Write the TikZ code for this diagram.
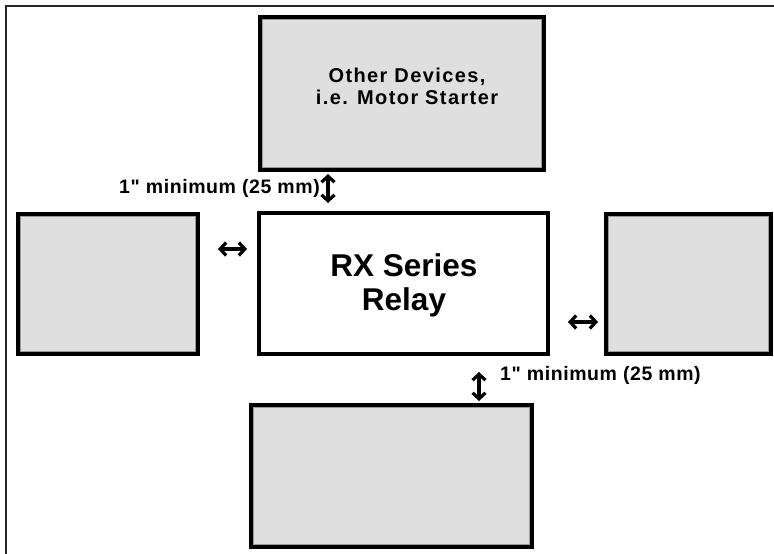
\documentclass[tikz,border=0pt]{standalone}
\usepackage{fontspec}
\setmainfont{Liberation Sans}
\newfontfamily\spacedfont[LetterSpace=3]{Liberation Sans}
\newfontfamily\widefont[LetterSpace=7]{Liberation Sans}
\usetikzlibrary{arrows.meta}
\definecolor{boxgray}{HTML}{DFDFDF}
\definecolor{edgegray}{HTML}{9A9A9A}
\begin{document}
\begin{tikzpicture}[x=1pt,y=-1pt,
  gbox/.style={draw=black, line width=4pt, fill=boxgray, inner sep=0pt, outer sep=0pt,
    path picture={\draw[edgegray,line width=1.2pt]
      ([xshift=2.6pt,yshift=-2.6pt]path picture bounding box.north west) rectangle
      ([xshift=-2.6pt,yshift=2.6pt]path picture bounding box.south east);}},
  wbox/.style={draw=black, line width=3.5pt, fill=white, inner sep=0pt, outer sep=0pt},
  lbl/.style={font=\spacedfont\bfseries\fontsize{19.5}{22}\selectfont, inner sep=0pt},
  dim/.style={line width=3.2pt, {Straight Barb[length=6pt,width=13pt]}-{Straight Barb[length=6pt,width=13pt]}}
]
\useasboundingbox (0,0) rectangle (774,554);
% outer frame (top and left edges visible)
\draw[line width=2pt, black!85] (6,554) -- (6,6) -- (774,6);

\node[gbox, minimum width=284pt, minimum height=153pt] (top) at (402,93.5) {};
\node[gbox, minimum width=180pt, minimum height=140pt] (left) at (108,284) {};
\node[wbox, minimum width=289pt, minimum height=141pt] (rx) at (403.5,283.5) {};
\node[gbox, minimum width=165pt, minimum height=140pt] (right) at (688.5,284) {};
\node[gbox, minimum width=281pt, minimum height=142pt] (bottom) at (391.5,476) {};

\node[align=center, font=\widefont\bfseries\fontsize{20}{22}\selectfont, inner sep=0pt] (toptext) at (407,86) {Other Devices,\\i.e. Motor Starter};
\node[align=center, font=\bfseries\fontsize{31.5}{34}\selectfont, inner sep=0pt] (rxtext) at (404,285) {RX Series\\Relay};

\node[lbl, anchor=east] (lblup) at (320,188) {1" minimum (25 mm)};
\node[lbl, anchor=west] (lbldown) at (500,375) {1" minimum (25 mm)};

\coordinate (a1) at (218,249); \coordinate (a2) at (247,249);
\coordinate (b1) at (568,322); \coordinate (b2) at (598,322);
\coordinate (c1) at (328,174); \coordinate (c2) at (328,203);
\coordinate (d1) at (479,372); \coordinate (d2) at (479,401);
\draw[dim] (a1) -- (a2);
\draw[dim] (b1) -- (b2);
\draw[dim] (c1) -- (c2);
\draw[dim] (d1) -- (d2);
\end{tikzpicture}
\end{document}
